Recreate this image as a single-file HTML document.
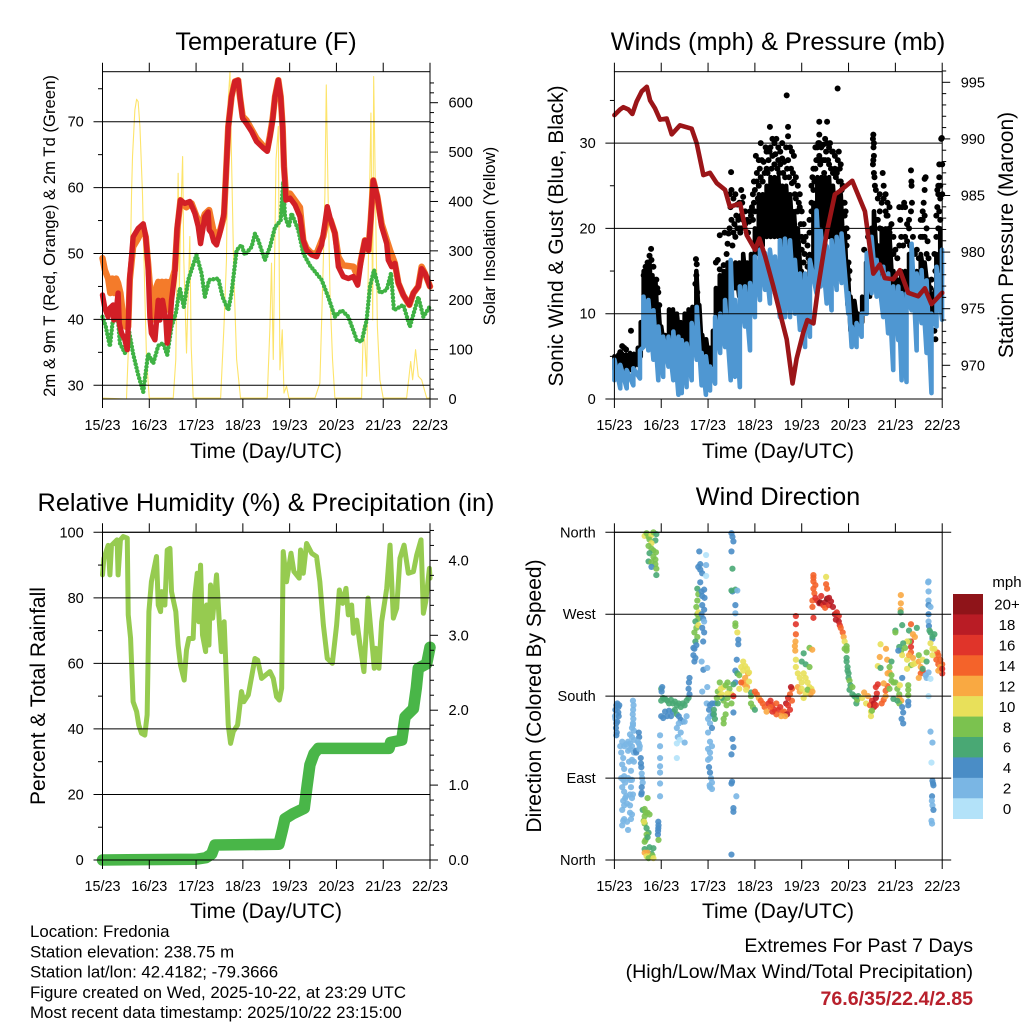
<!DOCTYPE html>
<html lang="en">
<head>
<meta charset="utf-8">
<title>Weather Station Summary</title>
<style>
html,body{margin:0;padding:0;background:#fff;width:1024px;height:1024px;overflow:hidden}
svg{display:block;font-family:"Liberation Sans",Arial,sans-serif;fill:#000}
.title{font-size:25.3px;text-anchor:middle}
.axt{font-size:21px;text-anchor:middle}
.info{font-size:16.85px}
.ext{font-size:19.6px;text-anchor:end}
</style>
</head>
<body>
<svg id="chart" xmlns="http://www.w3.org/2000/svg" width="1024" height="1024" viewBox="0 0 1024 1024">
<rect x="0" y="0" width="1024" height="1024" fill="#fff"/>
<g id="panelA"></g>
<g id="panelB"></g>
<g id="panelC"></g>
<g id="panelD"></g>
<g id="legend"></g>

<text class="title" x="266" y="50">Temperature (F)</text>
<text class="title" x="778" y="50">Winds (mph) &amp; Pressure (mb)</text>
<text class="title" x="266" y="511">Relative Humidity (%) &amp; Precipitation (in)</text>
<text class="title" x="778" y="505">Wind Direction</text>

<text class="axt" x="266" y="458">Time (Day/UTC)</text>
<text class="axt" x="778" y="458">Time (Day/UTC)</text>
<text class="axt" x="266" y="918">Time (Day/UTC)</text>
<text class="axt" x="778" y="918">Time (Day/UTC)</text>

<text text-anchor="middle" font-size="16.7" transform="translate(55,236) rotate(-90)">2m &amp; 9m T (Red, Orange) &amp; 2m Td (Green)</text>
<text text-anchor="middle" font-size="16.7" transform="translate(495,236) rotate(-90)">Solar Insolation (Yellow)</text>
<text text-anchor="middle" font-size="21" transform="translate(563,236) rotate(-90)">Sonic Wind &amp; Gust (Blue, Black)</text>
<text text-anchor="middle" font-size="21" transform="translate(1013,235) rotate(-90)">Station Pressure (Maroon)</text>
<text text-anchor="middle" font-size="21" transform="translate(45,696) rotate(-90)">Percent &amp; Total Rainfall</text>
<text text-anchor="middle" font-size="21" transform="translate(541,696) rotate(-90)">Direction (Colored By Speed)</text>

<text class="info" x="30" y="937">Location: Fredonia</text>
<text class="info" x="30" y="957.5">Station elevation: 238.75 m</text>
<text class="info" x="30" y="977.5">Station lat/lon: 42.4182; -79.3666</text>
<text class="info" x="30" y="998">Figure created on Wed, 2025-10-22, at 23:29 UTC</text>
<text class="info" x="30" y="1018">Most recent data timestamp: 2025/10/22 23:15:00</text>
<text class="ext" x="973" y="952">Extremes For Past 7 Days</text>
<text class="ext" x="973" y="978">(High/Low/Max Wind/Total Precipitation)</text>
<text class="ext" x="973" y="1005" font-weight="bold" fill="#b8202c">76.6/35/22.4/2.85</text>
</svg>

<script>
// ---- shared axis data ----
const timeTickHours = [0,24,48,72,96,120,144,168];
const timeTickLabels = ['15/23','16/23','17/23','18/23','19/23','20/23','21/23','22/23'];

// ---- temperature panel ----
const tempTicks = [30,40,50,60,70];
const tempMinorTicks = [35,45,55,65,75];
const solarTicks = [0,100,200,300,400,500,600];
const solarMinorTicks = [20,40,60,80,120,140,160,180,220,240,260,280,320,340,360,380,420,440,460,480,520,540,560,580,620,640];

const orangeHours = [0,1.2,2.9,4,5,6,7,8,9.2,10.6,12,13.2,14,15.7,18.3,20.9,22.2,23.4,24.6,26,27.7,28.6,29.5,30.5,31.5,32.5,33.5,34.5,35.4,37.1,38.3,40,43,45.7,48.3,50,52.5,54.7,56.8,59.4,62.3,63.3,64.5,66.2,67.9,69.6,70.5,71.9,73.9,79,82.5,84.5,85.9,87.3,88.5,90.2,91.4,92.4,93.1,94.1,96.2,101.3,103,104.7,107.3,109.8,113.3,115.3,117,119.2,121,123.5,128.7,130.9,132.9,134.6,136.4,137.6,138.9,141,143.2,147.5,150,151.8,154.3,157.4,159.5,162,163.7,165.4,168];
const orangeTemps = [49.3,47.5,46.2,44,46.2,44,46.2,45.5,44,40.4,38.9,38.9,46,51,52.3,54,52.5,48.5,44,40,45,45.7,42.5,45.7,42.5,45.7,41.5,45.7,45.7,47.5,53.5,58.1,57,57.6,55.6,54,56,56.6,53.6,52.5,55.6,61.7,69.2,73.8,76.1,76.3,73.8,70.8,70.2,67.5,66.3,65.7,67.9,70.5,73.8,76.3,73.8,69.2,63.2,59,59.1,57,52,50.8,50,50,52.6,55.6,55.1,53.1,49.5,48.2,48,46.5,49.5,52,50.5,55.1,61.1,58.6,54.5,50.5,48.5,45.5,43.7,42.2,44,45,48,47,45];

const redHours = [0,1.2,2.9,3.8,5.5,5.8,7.2,8,8.6,9.8,11.5,12.7,13.3,14,14.9,15.7,18.3,20.9,22.2,23.4,24.3,25.1,26.9,28.6,29.4,30.8,32.5,33.2,34.6,35.4,37.1,38.3,40,42.3,44.8,47.4,49.1,50.3,52.5,54.2,54.7,55.9,57.1,58.5,60.6,62.3,63.3,64.5,66.2,67.9,69.6,70.5,71.9,73.9,76.5,79,82.5,84.5,85.9,87.3,88.5,90.2,91.4,92.4,93.1,94.1,96.2,98.7,101.3,103,104.7,107.3,109.8,112.4,114.1,115.3,117,119.2,121,123.5,126.1,128.7,130.9,132.9,134.6,136.4,137.6,138.9,141,143.2,145.8,146.6,148.3,150,151.8,154.3,157.4,159.5,162,163.7,165.4,168];
const redTemps = [43.7,41.7,40.4,41.7,42.2,39.9,41.7,44,39.4,37.9,36.9,35.4,39.9,46.5,49.5,52.5,53.8,54.5,52.5,48,40.4,37.9,36.9,42.9,39.9,42.9,39.9,36.4,39.4,42.9,47,54,58.1,57.6,57.9,56.1,54.1,51.5,55.6,56.3,53.6,53.1,51.8,51.3,53.6,56.1,61.7,69.2,73.8,76.1,76.3,73.8,70.5,69.7,68.5,67,66,65.5,67.7,70.3,73.8,76.3,73.8,69.2,63.2,58.1,58.4,57.4,55.6,52,50.5,49.8,49.5,51.3,54.6,57.1,55.1,53.1,48,46.5,46.2,46.5,45.2,49.5,52,50.5,55.1,61.1,58.6,54.1,51.5,49,48,48.5,45.5,43.7,42.2,44,45,47.7,47,45];

const dewHours = [0,1.7,3.8,5.1,6.3,7.5,8.9,11.5,13.2,15.7,18.3,20.9,23.4,26,28.6,31.1,33.2,35.4,37.6,39.7,41.7,44,48.2,50.8,52.5,54.7,59.4,61.6,64.5,66.2,68.8,71.3,73,76.5,78.2,79.9,83.3,85.9,88.5,91.4,92.7,93.6,95.6,97,100.4,103,106.4,112.4,115.8,119.2,122.7,126.1,130.4,132.9,135.5,137.2,139.3,142.3,145.8,148,149.5,154.3,157.7,162,164.6,168];
const dewTemps = [40.4,38.9,35.9,39.4,39.9,41.9,36.4,34.9,38.9,34.8,31.6,29,34.8,33.3,36,36.4,34.6,38.9,40.9,44.7,41.9,46,49.8,47,43.4,46,46.2,43.4,41.4,44,50.5,51.3,49.8,51,53,52,49,51,54,55,60.9,55.6,54,56.1,53.6,50,48.2,46,43.4,40.4,41.4,40.4,36.9,36.6,39.9,45,47.5,44,44.5,47,41.4,42.2,38.9,43.4,40.4,42];

const solarHours = [0,12.3,13.7,14.9,15.4,16.6,17.5,18.3,19.2,20.5,21.7,22.6,24,36.3,37.6,38.8,39.4,40,41.1,41.7,43.1,44.8,45.5,46.5,60.6,62.3,63.6,64.5,65.4,66.2,67.4,68.8,70.8,84.5,85.9,86.7,87.6,89,90.2,91,92.2,93.1,94.4,95.6,109,111.5,113.3,114.1,114.8,115.7,116.7,118,119.2,132.9,133.8,134.6,135.5,136.4,137.7,138.6,139.1,140,141,142.3,144,156,158.1,159.1,160.6,162,163.7,165.1,166.3,168];
const solarValues = [2,0,147,417,491,585,607,602,552,417,214,80,2,2,80,457,214,349,491,282,93,329,107,2,2,147,282,605,663,484,248,80,2,2,147,275,80,484,552,59,140,12,26,2,2,32,282,417,636,417,214,80,2,2,147,113,46,282,579,160,653,417,147,39,2,2,76,39,100,46,39,19,2,2];

// ---- winds panel ----
const windTicks = [0,10,20,30];
const windMinorTicks = [5,15,25,35];
const pressureTicks = [970,975,980,985,990,995];
const pressureMinorTicks = [968,969,971,972,973,974,976,977,978,979,981,982,983,984,986,987,988,989,991,992,993,994,996];

const pressureHours = [0,2.9,4.6,7.2,9.2,11.4,14,16.6,18.3,20.8,23.4,26.8,29.4,33.6,39.6,42.2,45.6,49,52.4,56.7,59.2,64.4,67.8,72.1,74.3,77.3,81.4,84.9,88.3,91.3,93.4,96.8,98.9,102,104.5,108.8,113,115.6,121.9,128.4,132.7,136,138.6,142.9,146.3,150.6,155.7,159.1,162.5,168];
const pressureValues = [992.1,992.6,992.8,992.6,992.2,993.3,994.2,994.6,993.4,992.7,991.7,991.8,990.4,991.2,990.9,989.6,986.8,987,986.1,985.5,984,984.3,981.5,980.2,981.2,979.6,977,974.6,972.3,968.4,970.6,972.9,974,973.7,977,981.7,985.1,985.4,986.3,983.6,978.1,978.9,977.7,977.6,978.4,976.4,976.1,976.8,975.4,976.4];

const windHours = [0,3,6.3,9.7,13.1,14.9,17.4,20,22.5,25,27.7,30.2,32.8,34.5,37,39.6,42.2,44.7,46.9,49,51.6,54.2,56.7,59.6,61.8,64.3,66.9,69.5,72,74.6,77.2,79.7,82.3,84.8,87.4,90,92.5,95.1,97.7,100.2,103.6,105.7,108.8,111.3,113.9,116.4,119.9,121.6,124.1,126.7,129.3,131.8,134.4,137.8,140.3,142.9,145.5,147.2,149.7,152.3,154.9,157.4,160,162.5,165.1,167.9];
const windLow = [2.2,1.25,1.25,1.6,2.4,6.1,5.7,4.6,2.2,2.6,3.8,2.2,0.5,0.7,1.4,2.2,4.6,1.6,0.5,1,1.8,5.4,6.1,2.2,2.6,1.4,8.5,5.7,9.6,11.6,12.8,11.2,12.4,9.6,9.6,9.6,10,8.1,6.1,7.3,12.4,13.2,11.2,10.4,12.8,13.6,10,6.1,6.1,7.3,10,12.4,12,9.6,7.7,3.4,6.9,2.2,2,10.4,5.7,8.9,5.4,0.7,8.5,9.3];
const windHigh = [4.6,4,3.4,3.6,5.7,12,11.6,10.4,8.5,7.3,7.3,7.9,7.3,6.9,6.5,8.9,10.8,5.4,5,3.8,9.6,10,11.6,16.3,11.6,13.2,13.2,13.6,16.7,17.5,17.1,17.5,16.7,18.6,18.8,18.6,16.3,14.7,14.7,16.3,22.1,19.8,17.9,18.6,19,19.4,12.4,8.5,8.9,10,17.1,19,16.3,15.5,14.7,13.2,13.2,12.4,12.4,18.2,14.7,15.1,13.9,10,15.5,17.5];

const gustCoreHours = [0,2,4,6,8,10,12,13.5,15,16.5,18,19.5,21,22.5,24,26,28,30,32,34,36,38,40,42,43.5,45,47,49,50.5,52,54,56,58,60,62,64,66,68,70,72,74,76,78,80,82,84,86,88,90,92,94,96,98,100,102,104,106,108,110,112,114,116,118,119.5,121,123,125,127,129,131,133,135,137,139,141,143,145,147,149,151,153,155,157,159,161,163,165,167];
const gustCoreLow = [3.5,3,3,3.2,3.4,3.5,4,5,9,9,8.5,8.5,8,7,6,5,6,6,5,5.5,6,6,7,8,8,5,4,3.5,4,7,9,10,10,11,13,12,12,12,13,15,17,18,19,19,19,19,18,17,17,16,15,12,9,10,14,18,20,18,19,17,18,17,14,11,8,8,8,9,11,12,15,14,14,14,14,11,11,12,12,13,13,13,14,14,12,9,13,15];
const gustCoreHigh = [5,5.2,5.3,5.2,5.4,5.3,6,9,15,15,16,14.5,14,11,8.5,7.5,10.5,10.5,10,9,10,10.5,10.8,15,11,7.5,7,6,8,13,14.5,15,16,13,16,16,17,16,17,20,24,24,25,26,26,26,25,25,24,22,20,15,14,17,23,26,26,26,26,25,24,24,20,16,12,11.5,10,12,16,18,22,18,20,20,19,15,14,15,15,17,15,15,17,16,14,12,17,20];

const gustHours = [4,5,6,8.5,3,17,18,18.8,16,19,20,16.5,15,21.5,22.5,23,22,41.8,42.2,42,41.5,42.5,52,53,54,56,57.5,58,58.5,56.5,54,59,60,59.5,59.8,59,60,61,62,63,65,66,64,62.5,65,67,68,69,70,72,71,72.5,73,71.5,75,76.5,78,79.7,80,81,82,83,84,85,86,88.3,89,89,88,90,91,92,93,94,95,96,97,95,93.5,91.5,78,74,96,97,99,100,101,99.5,98,96,97.5,98,101,102,103,104,105,105,105,106,107,109,109,108,110,112,113,114.4,115,116,117,118,119,120,120.5,120,119.5,128,130,131,132,132.7,132.5,133,132.8,133,132.7,132.5,133,133.3,133.5,134,135,136,137.5,138,136,139,140,141,139.5,142,143,141,146,146.5,147.5,148.5,149,151,150,152,152.2,152.3,152,152.5,153,151.5,155,154,156,157,158,158.5,159,159.5,159,158,159,160,160.5,161,162.5,163,163.5,164,164.5,162,166,166.5,166.5,167.5,167.8,166,167,165.5,167,165,166.5,168,
72,73,73.5,74,74.5,75,75.5,76,77,77.5,78.5,79,79.5,80.5,81,82,82.5,83.5,84,84.5,85,86,86.5,87,87.5,88.5,89,89.5,90.5,91,92,92.5,93,94,94.5,96,95.5,97,97.5,98,99,100,
101,101.5,102,102.5,103,103.5,104,104.5,105,105.5,106,107,107.5,108,108.5,109.5,110,110.5,111,111.5,112,113,113.5,114,114.5,115,115.5,116,116.5,117.5,118,118.5,119,119.5,
60.5,61,61.5,62,63,63.5,64,64.5,65,65.5,66,67,68.5,69.5,70.5,71,71.5,
134,135,136,137,138,139,140,141,143,144,145,146,147,148,149,150,151,157,158,159,160,164,165,166,167,168,165.5,164.5,162];
const gustMph = [6.2,6,5.8,8,5.5,16,16.8,17.6,15.5,16.3,15.5,14.7,14.5,14,12.5,11,13,16.4,15.8,14.5,13.5,12.5,16,16.3,15.2,15.7,17,18.2,19.4,19.5,19.2,20,21,22.5,26.6,24,24.5,23.5,24,22.8,24.5,23.7,23,21.5,21.5,22,21,20.8,21.5,22,24,28.5,26.5,25.5,30,27.8,29,31.9,29.5,30.5,30,30.5,29.5,29,30,35.6,31.9,30.8,29.5,29.5,29,28.5,26,25,24,22,20.5,22.5,22,26.5,27,28,17.5,16,15.5,19.5,23,16.5,13,11.5,10.5,9.5,22,27,29.5,28,32.5,31,30,29.5,29.8,32.5,30,30.5,29.5,29,28.5,36.4,29,27.5,25,23,20,16,15,14,13,17.5,19,19.5,20,31,30.5,30,29.5,28.5,28,27.5,26.5,26,25,24.5,23.5,24,26.5,25,22,24,23,22.5,21.5,20.5,19,19.5,22.5,21,22.5,23,22.5,20,18.5,26.8,25.5,25,22,23,19,18,17.5,17,16.5,19,22,23,25.8,26,24.5,21,21.5,20,18.5,16.5,14,12,10,8,7,11,25,26,27.5,30.5,30.6,24,23.5,22.5,25,21.5,22,27.5,
24.5,25.5,23.5,25,27,26,28,25.5,26.5,29.5,26.5,28,29,27,28.5,27.5,28.7,27,28,26.5,27.5,28.2,26.5,27.8,26,27,28,26,27,25.3,25.5,24,23.5,22,23,19,20.5,18.5,17,19,18,21,
25,26,24.5,25.5,27,28,29.5,30,28.5,27.5,28,28,26.5,28,29,28,27.5,30,27,29,26.5,27,26,26.5,28,25.5,27,25.5,24.5,23,21.5,22,18,19,
18,19.5,20.5,19,20,21,20,19.5,20,23,21,20.5,19.5,22,22.5,21,23,
21,21,20,23,23.5,22,21.5,20,17,17.5,16.5,18,19,18,19,20.5,21,21,19,19,17,17,19,20,21,24,24.5,15,13];

// ---- humidity panel ----
const rhTicks = [0,20,40,60,80,100];
const rhMinorTicks = [10,30,50,70,90];
const rainTicks = [0,1,2,3,4];
const rainTickLabels = ['0.0','1.0','2.0','3.0','4.0'];
const rainMinorTicks = [0.2,0.4,0.6,0.8,1.2,1.4,1.6,1.8,2.2,2.4,2.6,2.8,3.2,3.4,3.6,3.8,4.2,4.4];

const rhHours = [0,0.7,2.9,3.8,4.6,7.5,8,9.2,10.6,12.7,13.2,14.4,15.7,17.5,18.6,20,21.7,22.9,23.8,25.1,27.7,28.6,29.8,30.3,32,33.2,34.6,35.4,37.6,38.8,40,41.9,43.1,44.3,46.5,47.4,48.6,49.4,50.3,51.3,52.9,53.4,54.6,55.4,56.5,58.5,59.9,61,62.4,64.5,65.7,67.1,69.3,71.3,72.5,74.8,78.2,79.6,81.6,85.9,87.6,89.3,90.7,91.9,92.7,94.4,96.7,98.2,100.9,101.6,103,104.7,107.3,109.8,111.5,113.3,115.3,117.9,120.1,121.5,123.2,124.9,126.1,127.8,128.7,130.4,132.1,134.1,136.2,139.4,140.3,141.8,143.2,145.8,147.5,149.2,150.9,152.6,154.7,156.9,159.5,161.2,163.4,164.6,165.8,167.7,168];
const rhValues = [87,92,96,87,96,97.7,87,97.7,98.7,98.2,74.8,67.7,48.3,45.3,41.2,38.7,38.1,44.3,75.8,85,92.6,77.8,75.8,81.9,77.8,94.6,95.1,81.9,75.8,65.6,59.5,54.9,64.1,67.6,67.6,80.9,87.5,72.7,90,68.7,63.6,77.8,65.6,83.9,73.8,87,72.7,63.6,72.7,41.2,35.6,39.2,41.2,51.4,48.3,50.4,61.5,61,55.4,57.5,55.4,49.8,48.8,52.4,94.1,84.9,93.6,88,86,94.6,87.5,96.6,93.6,92.6,84.9,71.7,61.5,60,71.7,82.4,78.3,82.9,74.8,77.8,69.2,73.2,65.6,57.5,79.9,58.5,64.6,58.5,72.7,82.9,96.1,73.8,76.8,92.1,96.1,87.5,88,93.1,97.7,75.3,78.8,89,86];

const rainHours = [0,48,53,56,57.7,90.5,92.3,93.6,97.9,103.5,105,106.4,108.5,110.7,147,147.8,153.5,155.2,159.5,161,162,166.3,168];
const rainInches = [0,0.01,0.03,0.08,0.2,0.21,0.4,0.55,0.62,0.69,1,1.27,1.42,1.49,1.49,1.57,1.6,1.91,2.02,2.3,2.56,2.62,2.84];

// ---- direction panel ----
const dirTicks = [0,90,180,270,360];
const dirTickLabels = ['North','East','South','West','North'];

const dirHours = [
0.5,1,1.5,2,2.5,1,2,0.5,1,1.5,0.8,1.2,1,0.3,2.2,
3,4,3.5,5,4.5,5,4,3.5,4.5,5,5.5,4,5,5.5,4.5,6,6.5,5,8,9,8.5,4,4.5,5,4,6.5,7,
9.5,9.8,9.6,9.4,9.7,9.5,9,9.5,10,9,8,10,7,8,6,7,8,9,10,7.5,9,10,8.5,7,8,9,8.5,9,9.5,8,8,
12.5,12.7,12,11,11.2,13.5,13.6,13.8,14,14.2,14.5,14,14,13.8,12.5,12.8,13,
17,14.5,15.5,16,17,18,15.5,15,15.5,15.2,16.5,17.5,16.5,15.5,16,17,15.5,18,20,17,19,15.5,17,16.5,18,19.5,17.5,20,
22.5,22.6,22.5,22.4,22.3,22.6,23.4,23.4,23.4,23.4,23.4,23.4,23.4,
15.5,16.5,17.5,19,20,21.5,21,18,19,17.5,19,20,21.3,18,20,21,17.5,19,21,19,21.5,21.5,
24,24.2,24.5,24,25,26,27,28,29,30,31,32,33,34,35,36,37,38,38.5,38,38.2,38.5,24,25,26,27,28,29,30,31,32,33,34,35,36,37,33,32,34,32.5,32,33.5,36,32,
43.5,44,43,44,45,44,47,47,47,
42.5,43,42.5,42,42.5,43,41.5,42,41,42.5,41.5,42,41,40.5,41,41.5,40.5,43,43,
44.7,45,46,46.2,45,44.7,46,45.5,46,45,46,45.5,44.7,45.6,47.6,45,47.6,
47.3,49,50,48.5,49,48,50.5,49,50,48,49,50,48,49,48,49,48.5,49,49.5,50,49,48.8,50,
51.5,51,51,51.5,53,54,53,54.5,55,56,57,58,59,60,58,56,55,57.5,60,61,57,56,56,54,58,52.5,62,61,
60,60.5,61,60,60.5,60.5,60,62,63,62,62,62,62,63,63.5,63.5,
61,60.5,61,60,60,60.3,61,60,61,62.5,
62.7,62,63,64,65,66,67,68,68.5,67,66,67,68,69,70,70,71,72,70,64,65,67.5,69,66,
72,73,74,75,76,77,78,79,80,81,82,83,84,85,86,87,88,89,90,88.5,87.5,85.5,83,81,91,90,91,90.5,89,80,
93,93,93,92.8,92.5,92.7,93,93,94,95,96,94,95,96,97,
97,100,101.4,96,98,100,97,98,99,100,101,100.5,98,99,101.5,
102,102,102,103,102,102.5,101.5,101.5,102,108.5,108.5,109,103,104,105,105.5,106,107,108,109,110,108,110,111,112,113,114,115,113.5,115,115.5,116,117,117.5,118,118,119,
119,119,119,119,119.5,119.5,120,120,120.5,120.5,121,122,122,123,124,124,124.5,125,
128,130,127,129,131,132,133,133,131.5,131.5,132,134,134,134.5,134,135,137,138,139,139,140,138,140,141,142,143,141,135,136.4,139.2,136,139.8,142,136.4,
141,142,144,145,146,146,147,146,145,143,147.5,148,148,147.2,147.5,146.3,150.6,150.6,150.6,150.6,150.6,
146.8,146.8,146.7,146.7,147.5,144,144,152,151,155,153,154,152,152,152,151,150,148,149,147,146,147.5,145.5,150,151,153,154,152,153,150,156,156,157,158,158,157,156,160,160,163,162,163,158,160,161,159.5,162,
165,166,167,168,166,167,168,167,166,165.5,168,163,164,
161,161,161,161,162,161,161,161.2,162,163,161.5,164,160.8,
161,162,163,162.5,163,163.3,163.5,162.8,162.7,163,163.5,162.5,162.8];

const dirDegrees = [
165,170,172,168,170,160,162,155,150,152,145,140,137,158,158,
125,130,118,125,112,100,105,90,88,92,85,80,75,68,65,70,62,60,52,50,45,55,43,45,38,42,33,
175,170,165,160,155,150,145,148,142,135,138,132,130,128,127,120,122,125,118,108,110,108,98,90,88,88,80,68,72,60,72,
140,135,130,120,118,112,106,102,95,90,85,80,74,72,128,122,125,
68,55,56,52,52,50,48,43,40,42,35,30,28,20,22,25,12,14,13,8,7,8,8,4,4,5,2,2,
42,38,35,32,28,22,137,125,112,103,96,84,70,
356,359,355,357,360,358,351,352,348,345,342,340,338,337,333,330,328,327,325,322,320,313,
188,185,190,175,178,177,175,172,176,172,174,170,172,168,172,170,175,178,182,188,195,200,158,156,163,158,164,158,163,165,160,158,154,152,152,158,150,145,140,135,128,132,129,112,
339,325,322,319,315,305,335,324,312,
298,292,285,278,270,265,262,255,250,245,240,236,232,225,218,222,233,272,258,
295,290,297,288,280,270,275,265,262,255,250,240,218,209,211,185,190,
172,170,172,165,158,155,160,150,145,140,130,125,122,118,110,112,102,96,90,85,80,82,78,
172,165,160,155,172,195,185,188,182,190,192,195,188,182,178,175,178,170,172,180,160,155,150,180,183,178,195,193,
359,355,350,339,320,295,296,297,296,280,271,260,257,250,242,237,
162,133,124,116,84,86,57,6,53,70,
220,208,205,203,212,218,213,210,205,200,195,192,190,196,180,172,168,165,184,188,195,187,206,208,
185,182,178,175,172,168,163,172,175,170,165,172,165,168,162,163,172,170,165,160,158,158,160,163,175,182,188,190,178,168,
268,259,248,240,235,230,220,212,205,200,195,190,185,188,178,
227,233,231,218,215,212,205,200,195,190,188,182,183,187,185,
313,310,306,302,298,293,285,278,266,311,303,298,288,285,282,283,290,280,283,287,288,277,280,284,278,270,272,268,264,262,258,255,250,245,240,232,235,
232,230,222,218,212,208,205,200,197,187,192,190,182,180,178,172,176,180,
184,180,178,172,170,175,172,168,163,158,164,170,178,183,190,193,172,176,180,186,191,194,205,206,197,195,188,213,237,232,223,220,218,211,
212,203,195,188,182,178,175,172,175,177,168,162,150,155,200,192,192,187,181,174,170,
291,282,275,272,258,252,250,259,252,255,248,245,240,234,228,240,240,238,233,230,234,225,230,220,225,222,216,214,215,210,225,218,212,220,208,205,200,228,218,243,238,232,210,200,206,203,199,
220,225,220,215,215,210,205,212,208,228,210,225,232,
306,295,285,280,278,270,262,257,250,245,252,248,305,
180,141,129,107,87,84,82,70,65,60,55,43,40];

const dirSpeeds = [
4,4,4,4,4,4,4,2,4,4,4,4,4,2,4,
2,2,2,2,2,2,2,2,2,2,2,2,2,2,2,2,2,2,2,2,2,2,2,2,2,2,2,
2,2,2,2,2,2,2,2,2,2,2,2,2,2,2,2,2,2,2,2,2,2,2,2,2,2,2,2,2,2,2,
4,4,2,4,4,4,4,4,2,2,2,4,4,4,2,2,2,
8,6,8,8,8,8,8,8,8,10,6,6,8,8,8,6,6,6,6,6,6,12,12,10,10,8,8,10,
4,4,4,4,4,8,2,2,2,2,2,2,2,
10,8,8,10,8,6,6,8,10,8,8,8,8,6,8,8,6,8,8,4,8,6,
6,4,4,6,6,6,6,6,6,6,6,6,6,6,6,6,6,6,4,4,4,4,4,4,4,4,4,4,4,6,6,4,4,4,2,2,2,2,2,2,0,0,2,0,
4,4,4,4,4,4,0,2,0,
6,8,8,8,8,8,6,8,8,8,6,4,4,4,4,4,4,10,10,
4,4,4,4,4,4,4,4,2,4,4,4,2,4,2,2,2,
2,4,4,4,2,2,4,2,4,2,2,2,2,2,2,2,4,4,2,2,2,2,2,
4,6,6,6,6,8,8,10,10,10,8,8,8,10,8,8,6,8,8,16,8,8,8,10,10,8,4,6,
4,4,4,4,6,4,6,6,2,4,2,8,8,10,4,4,
4,4,4,4,4,4,4,4,4,2,
4,4,6,8,10,10,10,10,12,12,12,12,12,10,8,8,8,6,6,10,14,10,10,10,
14,14,12,14,14,14,12,16,16,16,16,14,16,16,14,14,18,16,16,18,12,12,14,16,14,14,14,18,16,14,
16,16,14,12,12,12,10,10,10,10,10,12,12,10,10,
6,8,12,6,6,8,10,10,10,10,10,12,10,8,12,
14,14,14,14,14,14,14,14,16,10,14,14,16,16,18,20,16,16,18,20,18,14,16,18,18,18,16,16,18,18,16,14,14,12,10,8,8,
8,8,6,6,6,6,6,6,8,6,6,8,6,6,6,6,8,6,
12,12,10,10,14,16,18,18,10,10,8,16,18,16,16,16,14,14,12,14,14,12,12,12,8,8,8,10,10,12,12,12,6,6,
8,8,8,8,8,12,12,8,6,6,4,4,4,4,4,10,8,8,8,4,4,
12,12,12,6,6,6,8,14,6,6,12,12,16,16,14,8,10,6,8,8,6,10,4,10,12,12,10,8,10,10,8,12,12,10,16,14,12,8,6,4,10,10,6,2,2,2,0,
14,14,14,14,14,14,16,12,12,14,16,10,10,
2,2,2,4,2,4,2,4,6,6,6,6,2,
0,2,2,0,4,4,4,4,2,2,4,2,2];

const speedLabels = ['20+','18','16','14','12','10','8','6','4','2','0'];
const speedColors = ['#8f1419','#b91c25','#e0342a','#f4632a','#f9a942','#e8e05a','#7bc24f','#49a874','#4a8dc6','#7ab6e4','#b3e2f9'];

// ---- axis geometry ----
const NS = 'http://www.w3.org/2000/svg';
const boxA = {x0:102.5,x1:430,y0:71.7,y1:399};
const boxB = {x0:614.4,x1:942.2,y0:71.7,y1:399};
const boxC = {x0:102.5,x1:430,y0:532.3,y1:860};
const boxD = {x0:614.4,x1:942.2,y0:532.3,y1:860};
function timeX(box,h){return box.x0+h/168*(box.x1-box.x0);}
const tempY = v => 385.3-(v-30)*6.59;
const solarY = v => 399-v*296.3/600;
const windY = v => 399-v*8.53;
const pressureY = v => 365.3-(v-970)*11.32;
const rhY = v => 860-v*3.277;
const rainY = v => 860-v*74.9;
const dirY = v => 860-v*327.7/360;

function make(tag,parent,attrs){
  const n=document.createElementNS(NS,tag);
  for(const k in attrs){n.setAttribute(k,attrs[k]);}
  parent.appendChild(n);
  return n;
}
function pathFrom(xs,ys,box,yf){
  let d='';
  for(let i=0;i<xs.length;i++){
    d+=(i?'L':'M')+timeX(box,xs[i]).toFixed(2)+' '+yf(ys[i]).toFixed(2);
  }
  return d;
}
function drawLine(parent,name,xs,ys,box,yf,style){
  const p=make('path',parent,Object.assign({d:pathFrom(xs,ys,box,yf),fill:'none','stroke-linejoin':'round','stroke-linecap':'round'},style));
  
  
  return p;
}
function drawZigzag(parent,name,hours,low,high,box,yf,style){
  let d='';
  for(let i=0;i<hours.length;i++){
    const x=timeX(box,hours[i]).toFixed(2);
    d+=(i?'L':'M')+x+' '+yf(low[i]).toFixed(2)+'L'+x+' '+yf(high[i]).toFixed(2);
  }
  const p=make('path',parent,Object.assign({d:d,fill:'none','stroke-linejoin':'round','stroke-linecap':'round'},style));
  
  
}
function drawFrame(parent,box,name){
  const r=make('rect',parent,{x:box.x0,y:box.y0,width:box.x1-box.x0,height:box.y1-box.y0,fill:'none',stroke:'#000','stroke-width':1});
  
  
  timeTickHours.forEach((h,i)=>{
    const x=timeX(box,h);
    const top=make('line',parent,{x1:x,x2:x,y1:box.y0,y2:box.y0-9,stroke:'#000','stroke-width':1});
    
    
    const bot=make('line',parent,{x1:x,x2:x,y1:box.y1,y2:box.y1+9,stroke:'#000','stroke-width':1});
    
    
    const t=make('text',parent,{x:x,y:box.y1+31,'text-anchor':'middle','font-size':14.4});
    t.textContent=timeTickLabels[i];
    
    
  });
}
function drawGrid(parent,box,ticks,yf,name){
  ticks.forEach(v=>{
    const l=make('line',parent,{x1:box.x0-9,x2:box.x1,y1:yf(v),y2:yf(v),stroke:'#000','stroke-width':1});
    
    
  });
}
function drawLeftLabels(parent,box,ticks,labels,yf,name,minor){
  ticks.forEach((v,i)=>{
    const t=make('text',parent,{x:box.x0-18.7,y:yf(v)+5,'text-anchor':'end','font-size':14.6});
    t.textContent=labels[i];
    
    
  });
  minor.forEach(v=>{
    const m=make('line',parent,{x1:box.x0-4.5,x2:box.x0,y1:yf(v),y2:yf(v),stroke:'#000','stroke-width':1});
    
    
  });
}
function drawRightAxis(parent,box,ticks,labels,yf,name,minor){
  ticks.forEach((v,i)=>{
    const l=make('line',parent,{x1:box.x1,x2:box.x1+8,y1:yf(v),y2:yf(v),stroke:'#000','stroke-width':1});
    
    
    const t=make('text',parent,{x:box.x1+18.5,y:yf(v)+5,'font-size':14.6});
    t.textContent=labels[i];
    
    
  });
  minor.forEach(v=>{
    const m=make('line',parent,{x1:box.x1,x2:box.x1+4,y1:yf(v),y2:yf(v),stroke:'#000','stroke-width':1});
    
    
  });
}

// ---- temperature panel ----
const gA=document.getElementById('panelA');
drawLine(gA,'solar-insolation-line',solarHours,solarValues,boxA,solarY,{stroke:'#fde15a','stroke-width':1.1,'stroke-opacity':0.9});
drawLine(gA,'temperature-9m-orange-line',orangeHours,orangeTemps,boxA,tempY,{stroke:'#f47b2a','stroke-width':6.4});
drawLine(gA,'dewpoint-green-line',dewHours,dewTemps,boxA,tempY,{stroke:'#3fb244','stroke-width':4.4,'stroke-dasharray':'0 3.6'});
drawLine(gA,'temperature-2m-red-line',redHours,redTemps,boxA,tempY,{stroke:'#d21f26','stroke-width':5.4});
drawGrid(gA,boxA,tempTicks,tempY,'temperature');
drawFrame(gA,boxA,'temperature');
drawLeftLabels(gA,boxA,tempTicks,tempTicks,tempY,'temperature',tempMinorTicks);
drawRightAxis(gA,boxA,solarTicks,solarTicks,solarY,'solar',solarMinorTicks);

// ---- winds panel ----
const gB=document.getElementById('panelB');
drawZigzag(gB,'gust-core-band',gustCoreHours,gustCoreLow,gustCoreHigh,boxB,windY,{stroke:'#000','stroke-width':4.6});
gustHours.forEach((h,i)=>{
  const c=make('circle',gB,{cx:timeX(boxB,h),cy:windY(gustMph[i]),r:3,fill:'#000'});
  
  
});
drawZigzag(gB,'sonic-wind-band',windHours,windLow,windHigh,boxB,windY,{stroke:'#4f97d2','stroke-width':4.6});
drawLine(gB,'station-pressure-line',pressureHours,pressureValues,boxB,pressureY,{stroke:'#9b1518','stroke-width':4.6});
drawGrid(gB,boxB,windTicks,windY,'wind');
drawFrame(gB,boxB,'wind');
drawLeftLabels(gB,boxB,windTicks,windTicks,windY,'wind',windMinorTicks);
drawRightAxis(gB,boxB,pressureTicks,pressureTicks,pressureY,'pressure',pressureMinorTicks);

// ---- humidity panel ----
const gC=document.getElementById('panelC');
drawLine(gC,'relative-humidity-line',rhHours,rhValues,boxC,rhY,{stroke:'#96cb50','stroke-width':5});
drawLine(gC,'total-rainfall-line',rainHours,rainInches,boxC,rainY,{stroke:'#49b648','stroke-width':11.5});
drawGrid(gC,boxC,rhTicks,rhY,'humidity');
drawFrame(gC,boxC,'humidity');
drawLeftLabels(gC,boxC,rhTicks,rhTicks,rhY,'humidity',rhMinorTicks);
drawRightAxis(gC,boxC,rainTicks,rainTickLabels,rainY,'rainfall',rainMinorTicks);

// ---- direction panel ----
const gD=document.getElementById('panelD');
dirHours.forEach((h,i)=>{
  const level=Math.min(10,Math.floor(dirSpeeds[i]/2));
  const c=make('circle',gD,{cx:timeX(boxD,h),cy:dirY(dirDegrees[i]),r:3.1,fill:speedColors[10-level],'fill-opacity':0.9});
  
  
});
dirTicks.forEach(v=>{
  const l=make('line',gD,{x1:boxD.x0-9,x2:boxD.x1+9,y1:dirY(v),y2:dirY(v),stroke:'#000','stroke-width':1});
  
  
});
drawFrame(gD,boxD,'direction');
drawLeftLabels(gD,boxD,dirTicks,dirTickLabels,dirY,'direction',[]);

// ---- legend ----
const gL=document.getElementById('legend');
const legendUnit=make('text',gL,{x:1007,y:587,'text-anchor':'middle','font-size':15});
legendUnit.textContent='mph';


speedLabels.forEach((lab,i)=>{
  const step=224.7/speedLabels.length;
  const r=make('rect',gL,{x:953,y:594+i*step,width:30,height:step+0.3,fill:speedColors[i]});
  
  
  const t=make('text',gL,{x:1007,y:594+i*step+step/2+5.5,'text-anchor':'middle','font-size':15});
  t.textContent=lab;
  
  
});
</script>
</body>
</html>
